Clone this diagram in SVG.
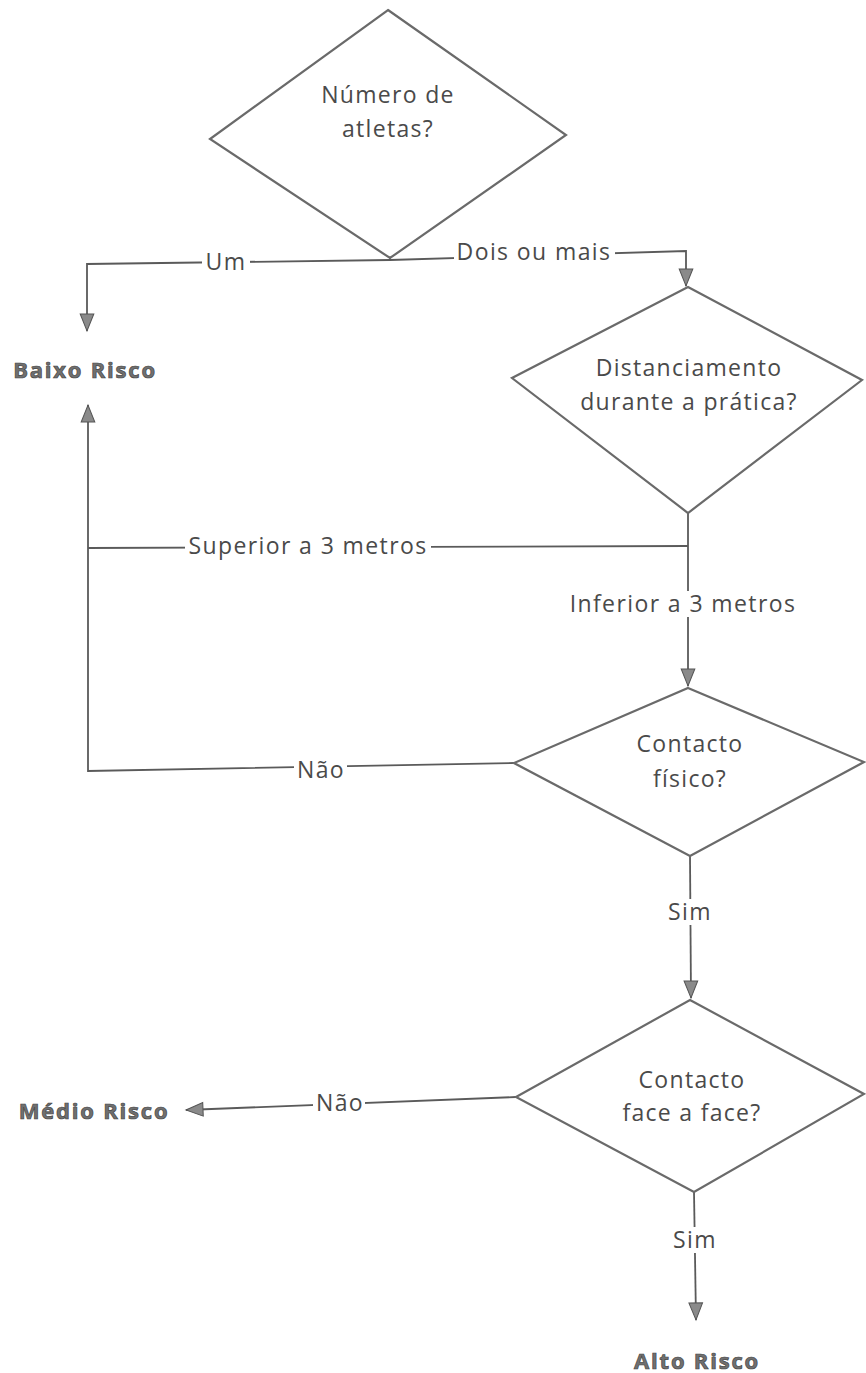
<svg xmlns="http://www.w3.org/2000/svg" width="866" height="1373" viewBox="0 0 866 1373">
<style>
.d{fill:#fff;stroke:#6a6a6a;stroke-width:2.2}
.t{font-family:"Open Sans","DejaVu Sans",sans-serif;font-size:23px;letter-spacing:1.3px;fill:#4a4a4a;text-anchor:middle}
.l{font-family:"Open Sans","DejaVu Sans",sans-serif;font-size:23px;letter-spacing:1.4px;fill:#4a4a4a;text-anchor:middle}
.b{fill:#fff}
.o{font-family:"Open Sans","DejaVu Sans",sans-serif;font-size:22px;letter-spacing:1.8px;font-weight:bold;fill:#707070;stroke:#444;stroke-width:0.7;text-anchor:middle}
.c{fill:none;stroke:#5a5a5a;stroke-width:1.8}
</style>
<defs>
<marker id="a" viewBox="0 0 10 10" refX="10" refY="5" markerWidth="17" markerHeight="17" markerUnits="userSpaceOnUse" orient="auto" style="overflow:visible">
<path d="M0,1 L10,5 L0,9 z" fill="#8a8a8a" stroke="#555" stroke-width="0.6"/>
</marker>
</defs>
<rect width="866" height="1373" fill="#fff"/>
<g id="connectors">
<path class="c" d="M390,258 L390,260"/>
<path class="c" d="M390,260 L87,264 L87,331" marker-end="url(#a)"/>
<path class="c" d="M390,260 L686,251 L686,286" marker-end="url(#a)"/>
<path class="c" d="M688,513 L688,686" marker-end="url(#a)"/>
<path class="c" d="M688,546 L88,548"/>
<path class="c" d="M514,763 L88,771 L88,405" marker-end="url(#a)"/>
<path class="c" d="M690,856 L691,998" marker-end="url(#a)"/>
<path class="c" d="M516,1097 L186,1110" marker-end="url(#a)"/>
<path class="c" d="M694,1192 L696,1320" marker-end="url(#a)"/>
<rect class="b" x="202" y="250" width="48" height="24"/>
<rect class="b" x="454" y="239" width="161" height="24"/>
<rect class="b" x="185" y="534" width="246" height="24"/>
<rect class="b" x="566" y="591" width="234" height="26"/>
<rect class="b" x="294" y="757" width="53" height="24"/>
<rect class="b" x="664" y="899" width="51" height="26"/>
<rect class="b" x="313" y="1090" width="52" height="24"/>
<rect class="b" x="670" y="1227" width="49" height="26"/>
<text class="l" x="226" y="270">Um</text>
<text class="l" x="534" y="260">Dois ou mais</text>
<text class="l" x="308" y="554">Superior a 3 metros</text>
<text class="l" x="683" y="612">Inferior a 3 metros</text>
<text class="l" x="321" y="778">Não</text>
<text class="l" x="690" y="920">Sim</text>
<text class="l" x="340" y="1111">Não</text>
<text class="l" x="695" y="1248">Sim</text>
</g>
<g id="n1">
<polygon class="d" points="388,10 566,135 390,258 210,139"/>
<text class="t" x="388" y="103">Número de</text>
<text class="t" x="388" y="137">atletas?</text>
</g>
<g id="n2">
<polygon class="d" points="688,287 862,380 688,513 512,378"/>
<text class="t" x="689" y="376">Distanciamento</text>
<text class="t" x="689" y="410">durante a prática?</text>
</g>
<g id="n3">
<polygon class="d" points="688,688 864,762 690,856 514,763"/>
<text class="t" x="690" y="752">Contacto</text>
<text class="t" x="690" y="787">físico?</text>
</g>
<g id="n4">
<polygon class="d" points="690,1000 864,1094 694,1192 516,1097"/>
<text class="t" x="692" y="1088">Contacto</text>
<text class="t" x="692" y="1121">face a face?</text>
</g>
<g id="baixo"><text class="o" x="85" y="378">Baixo Risco</text></g>
<g id="medio"><text class="o" x="94" y="1119">Médio Risco</text></g>
<g id="alto"><text class="o" x="697" y="1369">Alto Risco</text></g>
</svg>
